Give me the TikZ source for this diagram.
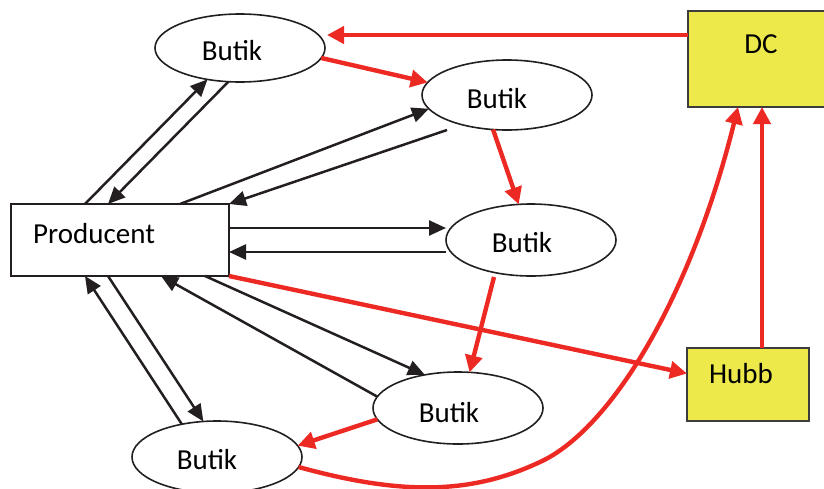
\documentclass[tikz,border=0pt]{standalone}
\usepackage{fontspec}
\setmainfont{Carlito}
\usetikzlibrary{arrows.meta,shapes.geometric}
\definecolor{flowred}{RGB}{237,41,36}
\definecolor{hubyellow}{RGB}{237,233,74}
\definecolor{inkblack}{RGB}{35,31,32}
\definecolor{boxedge}{RGB}{60,60,60}
\begin{document}
\begin{tikzpicture}[x=1pt,y=-1pt,
  shop/.style={ellipse, draw=inkblack, line width=1.6pt, minimum width=170pt,
    inner sep=0pt, outer sep=0pt},
  plainbox/.style={rectangle, draw=inkblack, line width=1.6pt, inner sep=0pt, outer sep=0pt},
  centrebox/.style={rectangle, draw=boxedge, fill=hubyellow, line width=1.6pt,
    inner sep=0pt, outer sep=0pt},
  txt/.style={font=\fontsize{29}{34}\selectfont, inner sep=0pt, anchor=base, text=black},
  blk/.style={draw=inkblack, line width=2.5pt,
    -{Triangle[length=17pt,width=15pt]}},
  rd/.style={draw=flowred, line width=4.4pt,
    -{Triangle[length=17pt,width=17pt]}},
]
\useasboundingbox (0,0) rectangle (824,488);

% boxes
\node[plainbox, minimum width=218pt, minimum height=72pt] (prod) at (120,240) {};
\node[centrebox, minimum width=142pt, minimum height=96pt] (dc) at (759,59) {};
\node[centrebox, minimum width=122pt, minimum height=73pt] (hubb) at (748,384.5) {};

% shops
\node[shop, minimum height=68pt] (b1) at (240,48) {};
\node[shop, minimum height=70pt] (b2) at (507,95) {};
\node[shop, minimum height=72pt] (b3) at (531,240) {};
\node[shop, minimum height=72pt] (b4) at (458,408) {};
\node[shop, minimum height=72pt] (b5) at (217,457) {};

% labels
\node[txt, anchor=base west] (prodlabel) at (33,243) {Producent};
\node[txt] (dclabel) at (761,53) {DC};
\node[txt] (hubblabel) at (741,383) {Hubb};
\node[txt] (b1label) at (232,60) {Butik};
\node[txt] (b2label) at (497,108) {Butik};
\node[txt] (b3label) at (522,252) {Butik};
\node[txt] (b4label) at (449,422) {Butik};
\node[txt] (b5label) at (207,469) {Butik};

% flows between producer and shops
\draw[blk] ([xshift=74pt]prod.north west) -- (b1.224);
\draw[blk] (b1.251) -- ([xshift=97pt]prod.north west);
\draw[blk] ([xshift=169pt]prod.north west) -- (b2.190);
\draw[blk] ([shift={(-60,35)}]b2.center) -- (prod.north east);
\draw[blk] ([shift={(0,-12)}]prod.east) -- ([shift={(0,-12)}]b3.west);
\draw[blk] ([shift={(0,12)}]b3.west) -- ([shift={(0,12)}]prod.east);
\draw[blk] ([xshift=194pt]prod.south west) -- (b4.135);
\draw[blk] (b4.172) -- ([xshift=150pt]prod.south west);
\draw[blk] ([xshift=97pt]prod.south west) -- (b5.111);
\draw[blk] (b5.137) -- ([xshift=74pt]prod.south west);

% distribution route
\coordinate (hubtop) at ([xshift=14pt]hubb.north);
\coordinate (dip) at (540,462);
\draw[rd] ([shift={(0,-24)}]dc.west) -- ([shift={(87,-13)}]b1.center);
\draw[rd] (b1.353) -- (b2.171);
\draw[rd] (b2.248) -- (b3.109);
\draw[rd] ([shift={(-37,37)}]b3.center) -- (b4.72);
\draw[rd] (b4.188) -- (b5.8);
\draw[rd] (prod.south east) -- ([shift={(0,-11)}]hubb.west);
\draw[rd] (hubtop) -- (hubtop |- dc.south);
\draw[rd] (b5.353) .. controls (400,495) and (470,495) .. (dip)
  .. controls (610,430) and (690,300) .. ([xshift=-21pt]dc.south);
\end{tikzpicture}
\end{document}
